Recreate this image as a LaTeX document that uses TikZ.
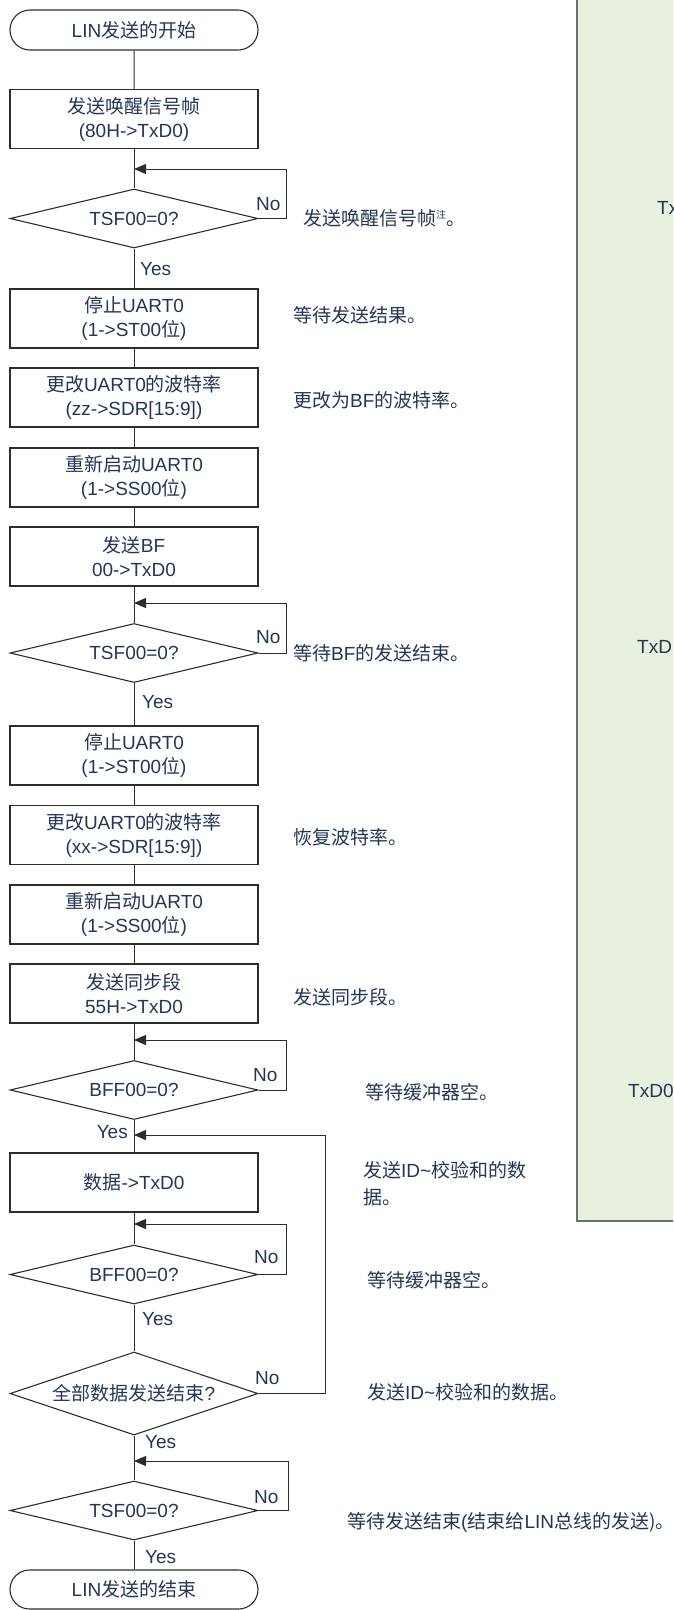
\documentclass[tikz,border=0pt]{standalone}
\usepackage{fontspec}
\setmainfont{Liberation Sans}
\newfontfamily\cjkf{Noto Sans CJK SC}
\newcommand\cj[1]{{\cjkf #1}}
\usetikzlibrary{shapes.geometric,shapes.misc,arrows.meta}
\definecolor{txtc}{RGB}{35,55,85}
\definecolor{linec}{RGB}{45,45,45}
\definecolor{panelfill}{RGB}{232,240,222}
\definecolor{panelline}{RGB}{110,110,110}
\begin{document}
\begin{tikzpicture}[x=1pt,y=-1pt,
  every node/.style={text=txtc, font=\fontsize{19}{24}\selectfont, inner sep=0pt},
  proc/.style={draw=linec, line width=1.1pt, minimum width=248pt, minimum height=59pt, align=center},
  term/.style={draw=linec, line width=1.1pt, rounded rectangle, minimum width=248pt, minimum height=40pt},
  dec/.style={draw=linec, line width=1.1pt, diamond, aspect=3, minimum width=248pt, minimum height=59pt},
  lbl/.style={anchor=west},
  cmt/.style={anchor=west, align=left},
  flow/.style={draw=linec, line width=1pt},
  arr/.style={flow, -{Triangle[length=12pt,width=10pt]}},
]
\useasboundingbox (0,0) rectangle (673,1610);
\clip (0,0) rectangle (673,1610);

% right panel
\fill[panelfill] (577,-20) rectangle (700,1221);
\draw[panelline, line width=1.5pt] (577,-20) rectangle (700,1221);
\node[lbl] (p1) at (657,208) {Tx};
\node[lbl] (p2) at (637,647) {TxD};
\node[lbl] (p3) at (628,1091) {TxD0};

% main column
\node[term] (start) at (134,30) {LIN\cj{发送的开始}};
\node[proc] (b1) at (134,119) {\cj{发送唤醒信号帧}\\(80H->TxD0)};
\coordinate (l1) at (134,169);
\node[dec] (d1) at (134,218.5) {TSF00=0?};
\node[lbl] (yes1) at (140,269) {Yes};
\node[lbl] (no1) at (256,204) {No};
\node[cmt] (c1) at (303,218) {\cj{发送唤醒信号帧}\raisebox{7pt}{\fontsize{10}{10}\selectfont\cj{注}}\cj{。}};

\node[proc] (b2) at (134,318.5) {\cj{停止}UART0\\(1->ST00\cj{位})};
\node[cmt] (c2) at (293,315) {\cj{等待发送结果。}};
\node[proc] (b3) at (134,397.5) {\cj{更改}UART0\cj{的波特率}\\(zz->SDR[15:9])};
\node[cmt] (c3) at (293,400) {\cj{更改为}BF\cj{的波特率。}};
\node[proc] (b4) at (134,477.5) {\cj{重新启动}UART0\\(1->SS00\cj{位})};
\node[proc] (b5) at (134,556.5) {\cj{发送}BF\\00->TxD0};
\coordinate (l2) at (134,603);
\node[dec] (d2) at (134,653) {TSF00=0?};
\node[lbl] (no2) at (256,637) {No};
\node[cmt] (c4) at (293,653) {\cj{等待}BF\cj{的发送结束。}};
\node[lbl] (yes2) at (142,702) {Yes};

\node[proc] (b6) at (134,755.5) {\cj{停止}UART0\\(1->ST00\cj{位})};
\node[proc] (b7) at (134,835) {\cj{更改}UART0\cj{的波特率}\\(xx->SDR[15:9])};
\node[cmt] (c5) at (293,837) {\cj{恢复波特率。}};
\node[proc] (b8) at (134,914.5) {\cj{重新启动}UART0\\(1->SS00\cj{位})};
\node[proc] (b9) at (134,993.5) {\cj{发送同步段}\\55H->TxD0};
\node[cmt] (c6) at (293,997) {\cj{发送同步段。}};
\coordinate (l3) at (134,1040);
\node[dec] (d3) at (134,1090) {BFF00=0?};
\node[lbl] (no3) at (253,1075) {No};
\node[cmt] (c7) at (365,1092) {\cj{等待缓冲器空。}};
\node[anchor=east] (yes3) at (128,1132) {Yes};
\coordinate (l4) at (134,1135);

\node[proc] (b10) at (134,1182.5) {\cj{数据}->TxD0};
\node[cmt, font=\fontsize{19}{27}\selectfont] (c8) at (363,1183.5) {\cj{发送}ID\textasciitilde\cj{校验和的数}\\\cj{据。}};
\coordinate (l5) at (134,1224);
\node[dec] (d4) at (134,1274.5) {BFF00=0?};
\node[lbl] (no4) at (254,1257) {No};
\node[cmt] (c9) at (367,1280) {\cj{等待缓冲器空。}};
\node[lbl] (yes4) at (142,1319) {Yes};

\node[dec, minimum height=83pt] (d5) at (134,1393.5) {\cj{全部数据发送结束}?};
\node[lbl] (no5) at (255,1378) {No};
\node[cmt] (c10) at (367,1392) {\cj{发送}ID\textasciitilde\cj{校验和的数据。}};
\node[lbl] (yes5) at (145,1442) {Yes};
\coordinate (l6) at (134,1461);
\node[dec] (d6) at (134,1510.5) {TSF00=0?};
\node[lbl] (no6) at (254,1497) {No};
\node[cmt] (c11) at (347,1522) {\cj{等待发送结束}(\cj{结束给}LIN\cj{总线的发送}\cj{)。}};
\node[lbl] (yes6) at (145,1557) {Yes};
\node[term, minimum height=39pt] (stop) at (134,1589.5) {LIN\cj{发送的结束}};

% connectors
\draw[flow] (start) -- (b1);
\draw[flow] (b1) -- (d1);
\draw[arr] (d1.east) -- ++(28,0) |- (l1);
\draw[flow] (d1) -- (b2);
\draw[flow] (b2) -- (b3);
\draw[flow] (b3) -- (b4);
\draw[flow] (b4) -- (b5);
\draw[flow] (b5) -- (d2);
\draw[arr] (d2.east) -- ++(28,0) |- (l2);
\draw[flow] (d2) -- (b6);
\draw[flow] (b6) -- (b7);
\draw[flow] (b7) -- (b8);
\draw[flow] (b8) -- (b9);
\draw[flow] (b9) -- (d3);
\draw[arr] (d3.east) -- ++(28,0) |- (l3);
\draw[flow] (d3) -- (b10);
\draw[flow] (b10) -- (d4);
\draw[arr] (d4.east) -- ++(28,0) |- (l5);
\draw[flow] (d4) -- (d5);
\draw[arr] (d5.east) -- ++(67,0) |- (l4);
\draw[flow] (d5) -- (d6);
\draw[arr] (d6.east) -- ++(30,0) |- (l6);
\draw[flow] (d6) -- (stop);
\end{tikzpicture}
\end{document}
